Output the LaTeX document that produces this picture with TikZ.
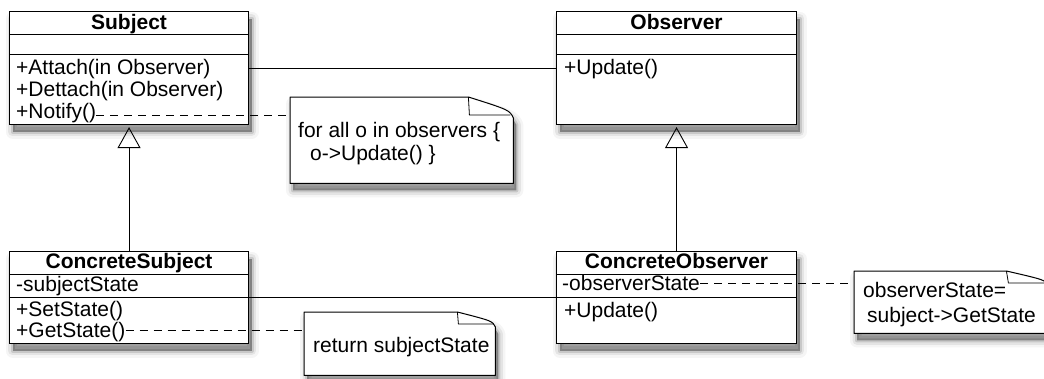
\documentclass[tikz,border=0pt]{standalone}
\usepackage{fontspec}
\setmainfont{Liberation Sans}
\usetikzlibrary{arrows.meta}
\begin{document}
\begin{tikzpicture}[x=1pt,y=-1pt,
  shadowed/.style={
    preaction={draw=black,line width=14pt,opacity=0.04,line join=round,transform canvas={xshift=3pt,yshift=-7pt}},
    preaction={draw=black,line width=9pt,opacity=0.07,line join=round,transform canvas={xshift=3pt,yshift=-7pt}},
    preaction={draw=black,line width=4pt,opacity=0.12,line join=round,transform canvas={xshift=3pt,yshift=-7pt}},
    preaction={fill=black,opacity=0.35,transform canvas={xshift=3pt,yshift=-7pt}}},
  classbox/.style={draw,line width=1.1pt,fill=white,shadowed,anchor=north west,inner sep=0pt},
  divider/.style={line width=0.9pt},
  title/.style={font=\fontsize{21pt}{22pt}\selectfont\bfseries,inner sep=0pt,anchor=base},
  member/.style={font=\fontsize{21pt}{22pt}\selectfont,inner sep=0pt,anchor=base west},
  assoc/.style={line width=0.9pt},
  inherit/.style={line width=0.9pt,-{Triangle[open,length=21pt,width=23pt,line width=0.9pt]},shorten >=2pt},
  notelink/.style={line width=0.9pt,dash pattern=on 8pt off 6pt},
  notebox/.style={draw=none,anchor=north west,inner sep=0pt},
  noteline/.style={line width=1pt,fill=white,shadowed,line join=round},
  flap/.style={line width=0.8pt}
]
\useasboundingbox (0,0) rectangle (1044,378);
\clip (0,0) rectangle (1044,378);

% class boxes
\node[classbox,minimum width=239pt,minimum height=113pt] (subject) at (9,11) {};
\node[classbox,minimum width=240pt,minimum height=113pt] (observer) at (556,11) {};
\node[classbox,minimum width=239pt,minimum height=92pt] (csubject) at (9,251) {};
\node[classbox,minimum width=240pt,minimum height=92pt] (cobserver) at (556,251) {};

% compartments
\draw[divider] (subject.west |- 0,34) -- (subject.east |- 0,34);
\draw[divider] (subject.west |- 0,54) -- (subject.east |- 0,54);
\draw[divider] (observer.west |- 0,34) -- (observer.east |- 0,34);
\draw[divider] (observer.west |- 0,54) -- (observer.east |- 0,54);
\draw[divider] (csubject.west |- 0,274) -- (csubject.east |- 0,274);
\draw[divider] (csubject.west |- 0,297) -- (csubject.east |- 0,297);
\draw[divider] (cobserver.west |- 0,274) -- (cobserver.east |- 0,274);
\draw[divider] (cobserver.west |- 0,297) -- (cobserver.east |- 0,297);

% titles
\node[title] (tsubject) at (subject.north |- 0,29) {Subject};
\node[title] (tobserver) at (observer.north |- 0,29) {Observer};
\node[title] (tcsubject) at (csubject.north |- 0,268) {ConcreteSubject};
\node[title] (tcobserver) at (cobserver.north |- 0,268) {ConcreteObserver};

% members
\node[member] (attach) at (16,74) {+Attach(in Observer)};
\node[member] (dettach) at (16,96) {+Dettach(in Observer)};
\node[member] (notify) at (16,118) {+Notify()};
\node[member] (obsupdate) at (564,74) {+Update()};
\node[member] (subjstate) at (16,291) {-subjectState};
\node[member] (setstate) at (16,316) {+SetState()};
\node[member] (getstate) at (16,337) {+GetState()};
\node[member] (obsstate) at (562,290) {-observerState};
\node[member] (cobsupdate) at (564,317) {+Update()};

% notes
\node[notebox,minimum width=223pt,minimum height=86pt] (note1) at (290,97) {};
\node[notebox,minimum width=191pt,minimum height=63pt] (note2) at (304,312) {};
\node[notebox,minimum width=194pt,minimum height=62pt] (note3) at (854,271) {};

\draw[noteline] (note1.south west) -- (note1.north west) -- ([xshift=-45pt]note1.north east)
  .. controls ([xshift=-4pt,yshift=-13pt]note1.north east) .. ([yshift=-21pt]note1.north east)
  -- (note1.south east) -- cycle;
\draw[flap] ([xshift=-45pt]note1.north east) -- ([xshift=-44pt,yshift=-18pt]note1.north east) -- ([xshift=-3pt,yshift=-18pt]note1.north east);

\draw[noteline] (note2.south west) -- (note2.north west) -- ([xshift=-38pt]note2.north east)
  .. controls ([xshift=-3pt,yshift=-9pt]note2.north east) .. ([yshift=-15pt]note2.north east)
  -- (note2.south east) -- cycle;
\draw[flap] ([xshift=-38pt]note2.north east) -- ([xshift=-37pt,yshift=-12pt]note2.north east) -- ([xshift=-2pt,yshift=-12pt]note2.north east);

\draw[noteline] (note3.south west) -- (note3.north west) -- ([xshift=-42pt]note3.north east)
  .. controls ([xshift=-3pt,yshift=-9pt]note3.north east) .. ([yshift=-15pt]note3.north east)
  -- (note3.south east) -- cycle;
\draw[flap] ([xshift=-42pt]note3.north east) -- ([xshift=-40pt,yshift=-12pt]note3.north east) -- ([xshift=-2pt,yshift=-12pt]note3.north east);

\node[member] (n1a) at (298,137) {for all o in observers \{};
\node[member] (n1b) at (310,160) {o->Update() \}};
\node[member] (n2a) at (313,352) {return subjectState};
\node[member] (n3a) at (863,297) {observerState=};
\node[member] (n3b) at (867,322) {subject->GetState};

% connectors
\draw[assoc] (subject.east |- 0,68) -- (observer.west |- 0,68);
\draw[assoc] (csubject.east |- 0,297) -- (cobserver.west |- 0,297);
\draw[inherit] (csubject.north) -- (subject.south);
\draw[inherit] (cobserver.north) -- (observer.south);
\draw[notelink] (notify.east |- 0,115) -- (note1.west |- 0,115);
\draw[notelink] (getstate.east |- 0,330) -- (note2.west |- 0,330);
\draw[notelink] (obsstate.east |- 0,283) -- (note3.west |- 0,283);
\end{tikzpicture}
\end{document}
